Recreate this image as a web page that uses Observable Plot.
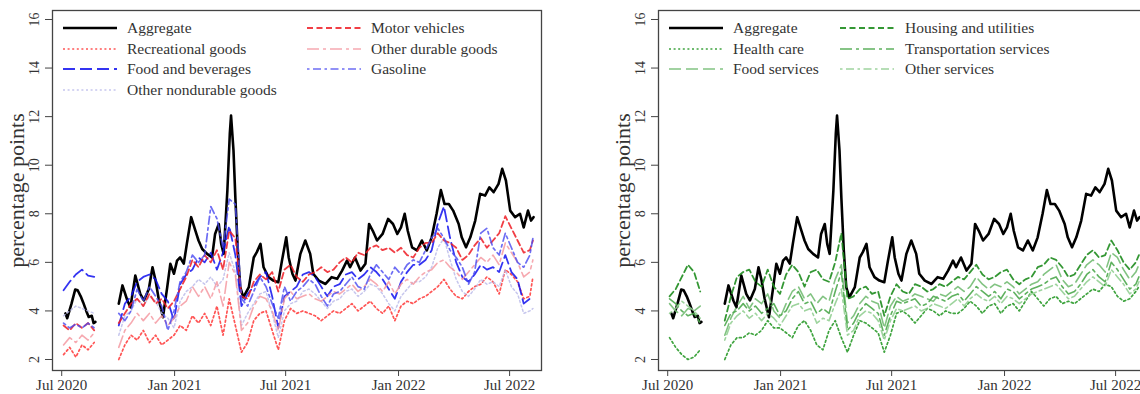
<!DOCTYPE html>
<html><head><meta charset="utf-8">
<script src="https://cdn.jsdelivr.net/npm/d3@7"></script>
<script src="https://cdn.jsdelivr.net/npm/@observablehq/plot@0.6"></script>
<style>
html,body{margin:0;padding:0;background:#fff;overflow:hidden;width:1140px;height:394px}
#wrap{position:relative;width:1140px;height:394px;overflow:hidden;background:#fff}
.panel{position:absolute;top:0;width:570px;height:394px}
.leg{position:absolute;display:flex;align-items:center;white-space:nowrap;font-family:"Liberation Serif",serif;font-size:15.5px;color:#333;height:18px}
.leg svg{display:block}
</style></head><body><div id="wrap"></div>
<script>
// ---------- data ----------
const xTickDates = ["2020-07-01","2021-01-01","2021-07-01","2022-01-01","2022-07-01"];
const yTicks = [2,4,6,8,10,12,14,16];

const aggDates1 = ["2020-07-07","2020-07-10","2020-07-17","2020-07-23","2020-07-27","2020-08-01","2020-08-05","2020-08-10","2020-08-14","2020-08-19","2020-08-22","2020-08-25"];
const aggValues1 = [3.9,3.7,4.3,4.88,4.85,4.6,4.35,4.0,3.75,3.8,3.5,3.55];
const aggDates2 = ["2020-10-02","2020-10-08","2020-10-16","2020-10-21","2020-10-29","2020-11-06","2020-11-12","2020-11-20","2020-11-26","2020-12-01",
"2020-12-06","2020-12-13","2020-12-20","2020-12-25","2020-12-31","2021-01-05","2021-01-10","2021-01-16","2021-01-21","2021-01-28",
"2021-02-04","2021-02-09","2021-02-15","2021-02-23","2021-03-03","2021-03-08","2021-03-14","2021-03-18","2021-03-22","2021-03-28",
"2021-04-01","2021-04-03","2021-04-07","2021-04-10","2021-04-14","2021-04-18","2021-04-23","2021-05-02","2021-05-10","2021-05-15",
"2021-05-21","2021-05-26","2021-06-03","2021-06-11","2021-06-19","2021-06-25","2021-07-02","2021-07-06","2021-07-12","2021-07-17",
"2021-07-25","2021-08-02","2021-08-10","2021-08-15","2021-08-24","2021-09-04","2021-09-14","2021-09-23","2021-10-01","2021-10-09",
"2021-10-14","2021-10-22","2021-10-31","2021-11-08","2021-11-14","2021-11-20","2021-11-27","2021-12-06","2021-12-15","2021-12-23",
"2021-12-30","2022-01-05","2022-01-11","2022-01-16","2022-01-23","2022-01-31","2022-02-08","2022-02-16","2022-02-24","2022-03-04",
"2022-03-11","2022-03-17","2022-03-24","2022-03-31","2022-04-09","2022-04-14","2022-04-21","2022-04-28","2022-05-06","2022-05-14",
"2022-05-22","2022-05-29","2022-06-05","2022-06-13","2022-06-19","2022-06-25","2022-07-02","2022-07-10","2022-07-18","2022-07-24",
"2022-07-31","2022-08-05","2022-08-09"];
const aggValues2 = [4.3,5.05,4.43,4.15,5.46,4.7,4.43,4.9,5.8,5.25,
4.5,3.74,4.98,5.94,5.53,6.07,6.2,5.95,6.77,7.86,
7.3,6.9,6.55,6.35,6.2,7.17,7.58,6.76,6.35,8.95,
11.3,12.04,10.6,8.68,6.49,4.98,4.56,4.98,6.2,6.42,
6.76,5.8,5.39,5.25,5.18,6.07,7.03,6.2,5.53,5.25,
6.35,6.9,6.35,5.53,5.25,5.11,5.39,5.32,5.66,6.07,
5.8,6.2,5.66,5.94,7.58,7.3,6.9,7.17,7.79,7.58,
7.17,7.44,8.0,7.3,6.62,6.49,6.9,6.49,7.03,8.0,
8.98,8.4,8.4,8.13,7.58,7.03,6.62,7.03,7.72,8.82,
8.75,9.09,8.89,9.23,9.85,9.37,8.13,7.86,8.0,7.44,
8.13,7.72,7.86];

const gridDates1 = ["2020-07-04","2020-07-14","2020-07-24","2020-08-03","2020-08-13","2020-08-23"];
const gridDates2 = ["2020-10-02","2020-10-12","2020-10-22","2020-11-01","2020-11-11","2020-11-21","2020-12-01","2020-12-11","2020-12-21","2020-12-31",
"2021-01-10","2021-01-20","2021-01-30","2021-02-09","2021-02-19","2021-03-01","2021-03-11","2021-03-21","2021-03-31","2021-04-10",
"2021-04-20","2021-04-30","2021-05-10","2021-05-20","2021-05-30","2021-06-09","2021-06-19","2021-06-29","2021-07-09","2021-07-19",
"2021-07-29","2021-08-08","2021-08-18","2021-08-28","2021-09-07","2021-09-17","2021-09-27","2021-10-07","2021-10-17","2021-10-27",
"2021-11-06","2021-11-16","2021-11-26","2021-12-06","2021-12-16","2021-12-26","2022-01-05","2022-01-15","2022-01-25","2022-02-04",
"2022-02-14","2022-02-24","2022-03-06","2022-03-16","2022-03-26","2022-04-05","2022-04-15","2022-04-25","2022-05-05","2022-05-15",
"2022-05-25","2022-06-04","2022-06-14","2022-06-24","2022-07-04","2022-07-14","2022-07-24","2022-08-03","2022-08-08"];

// goods
const recreational1 = [2.2,2.5,2.1,2.6,2.4,2.7];
const recreational2 = [2.0,2.6,3.0,2.8,3.2,2.7,3.0,2.6,2.8,3.0,
3.4,3.2,3.8,3.5,3.9,3.4,4.2,3.0,4.5,3.4,
2.3,2.7,3.6,3.9,4.0,3.2,2.4,3.6,4.1,3.9,
4.0,3.9,3.8,3.6,3.8,4.0,3.9,4.1,4.3,4.0,
4.2,4.4,4.1,3.9,4.2,3.6,4.2,4.4,4.3,4.5,
4.6,4.8,5.0,5.3,4.9,4.6,4.5,4.8,5.0,5.1,
5.4,5.2,4.7,5.7,5.5,5.2,4.5,4.6,5.4];
const foodBev1 = [4.85,5.2,5.5,5.7,5.45,5.4];
const foodBev2 = [3.4,4.3,4.6,5.2,5.4,5.5,5.3,4.7,4.4,3.6,
5.1,5.5,5.7,6.2,6.0,6.4,5.7,6.4,7.5,6.3,
4.2,4.7,5.0,5.4,5.6,4.6,3.3,4.6,4.8,5.0,
5.5,5.6,5.4,5.0,4.6,5.0,5.1,5.5,5.6,5.3,
5.5,5.8,5.6,5.3,4.9,4.5,5.2,5.6,5.9,5.9,
6.1,6.5,7.6,8.3,7.0,6.0,5.4,5.2,5.5,5.9,
5.7,5.8,5.6,6.3,5.6,5.3,4.3,4.5,4.4];
const otherNondurable1 = [3.8,4.0,4.2,4.1,4.0,3.9];
const otherNondurable2 = [3.0,3.8,4.0,4.5,4.2,4.6,4.4,3.9,3.7,3.3,
4.4,4.8,5.0,5.3,5.1,5.4,5.0,5.3,6.4,5.6,
3.4,3.9,4.3,4.7,4.8,3.9,2.9,4.0,4.3,4.4,
4.8,4.9,4.7,4.4,4.1,4.4,4.5,4.8,4.9,4.6,
4.8,5.1,5.0,4.7,4.3,4.0,4.6,4.9,5.2,5.2,
5.4,5.8,6.6,7.0,6.1,5.3,4.8,4.6,4.9,5.3,
5.1,5.2,5.0,5.7,5.0,4.7,3.9,4.0,4.1];
const motorVehicles1 = [3.4,3.2,3.5,3.3,3.5,3.2];
const motorVehicles2 = [3.5,3.9,4.3,4.5,4.2,4.7,4.3,4.5,4.1,4.4,
4.9,5.4,6.1,5.8,6.3,6.0,6.5,5.7,7.3,7.0,
4.6,4.5,5.2,5.5,5.3,5.6,4.8,5.7,5.9,5.4,
5.2,5.5,5.6,5.8,5.6,5.7,6.0,6.2,6.0,6.4,
6.3,6.6,6.7,6.5,6.6,6.4,6.6,6.3,6.2,6.6,
6.8,6.8,7.2,6.9,6.8,6.6,6.1,6.3,6.7,7.0,
6.6,6.9,7.2,7.9,7.4,6.9,6.4,6.5,6.9];
const otherDurable1 = [2.6,2.9,2.7,3.0,2.8,3.1];
const otherDurable2 = [2.5,3.2,3.5,3.9,3.6,3.9,3.5,3.8,3.4,3.7,
4.2,4.4,5.0,4.6,5.0,4.5,5.2,4.2,6.0,5.5,
3.2,3.5,4.2,4.6,4.5,4.0,3.2,4.5,4.8,4.5,
4.6,4.7,4.5,4.4,4.6,4.8,4.7,4.9,5.1,4.8,
5.0,5.3,5.1,4.8,5.2,4.7,5.1,5.3,5.1,5.4,
5.6,5.7,6.0,6.1,5.8,5.6,5.3,5.6,5.9,6.2,
6.0,6.3,5.9,6.8,6.4,6.0,5.4,5.6,6.1];
const gasoline1 = [3.5,3.3,3.45,3.3,3.5,3.3];
const gasoline2 = [3.9,3.6,4.0,4.9,4.4,5.0,4.6,4.2,3.2,4.0,
5.2,5.6,6.3,6.0,6.3,8.3,7.8,6.6,8.6,8.4,
4.5,4.2,4.8,5.4,5.0,4.3,3.7,5.0,4.4,4.8,
5.0,5.3,5.1,4.6,4.2,4.7,4.8,5.1,5.4,5.0,
4.9,5.5,5.9,5.6,5.3,5.8,5.5,5.9,6.1,6.0,
6.5,7.0,7.4,7.0,6.5,6.2,5.8,5.1,5.6,7.2,
7.4,6.6,6.3,7.2,6.6,6.0,5.8,6.3,7.0];

// services
const health1 = [2.9,2.5,2.2,2.0,2.1,2.4];
const health2 = [2.0,2.6,2.9,2.9,3.1,3.0,3.2,3.6,3.3,3.3,
3.1,2.9,3.4,3.6,3.2,2.6,2.4,3.2,3.6,2.9,
2.3,3.0,3.6,3.5,3.3,3.1,2.3,3.0,3.9,4.0,
3.8,3.5,3.8,4.1,4.0,3.8,4.0,3.9,3.9,4.1,
4.4,4.2,3.9,4.2,4.3,3.9,4.2,4.3,4.0,4.4,
4.8,4.5,4.2,4.5,4.6,4.3,4.4,4.3,4.5,4.7,
4.9,4.8,5.1,5.0,4.6,4.4,4.5,4.8,5.0];
const foodServices1 = [4.3,4.0,3.8,4.1,4.0,4.2];
const foodServices2 = [3.0,3.7,4.2,4.6,4.1,4.5,4.3,4.7,4.0,3.7,
4.3,4.8,5.0,4.5,4.7,4.3,4.6,4.4,5.3,5.9,
3.5,3.8,4.3,4.6,4.4,4.3,3.3,4.2,4.6,4.4,
4.5,4.7,4.6,4.5,4.4,4.7,4.6,4.8,5.0,4.8,
5.0,5.4,5.1,4.9,5.1,5.0,5.2,5.0,4.7,4.9,
5.1,5.2,5.5,5.7,5.9,5.3,5.0,5.1,5.5,5.9,
6.1,5.9,5.6,6.4,6.2,5.7,5.3,5.6,5.9];
const housing1 = [4.6,4.9,5.4,5.9,5.6,4.8];
const housing2 = [3.6,4.6,5.4,5.6,5.7,5.2,5.0,5.7,5.0,4.7,
5.5,5.9,5.6,5.0,5.6,5.7,5.3,5.2,6.0,7.2,
4.5,4.6,4.9,5.0,4.7,4.8,3.8,4.6,5.1,4.8,
4.7,5.1,5.0,4.8,4.9,5.1,5.0,5.2,5.4,5.3,
5.6,5.9,5.5,5.3,5.4,5.6,5.7,5.3,5.1,5.3,
5.4,5.8,5.9,6.2,6.1,5.8,5.4,5.5,5.9,6.3,
6.5,6.2,6.3,6.9,6.5,6.0,5.7,6.0,6.3];
const transport1 = [4.5,4.3,4.0,3.8,3.9,3.5];
const transport2 = [3.4,3.9,4.0,4.3,4.0,4.2,3.9,4.1,4.3,3.8,
4.0,4.5,4.8,4.3,4.4,3.9,4.1,3.9,4.8,5.6,
3.2,3.5,4.0,4.3,4.1,3.9,3.0,3.8,4.4,4.3,
4.4,4.5,4.2,4.3,4.6,4.5,4.4,4.6,4.7,4.4,
4.7,5.0,4.8,4.6,4.8,4.5,4.9,4.8,4.5,4.7,
4.9,5.0,5.1,5.3,5.4,5.0,4.7,4.8,5.1,5.5,
5.7,5.4,5.2,6.0,5.7,5.3,4.9,5.1,5.4];
const otherServices1 = [3.9,4.1,4.4,4.2,4.0,3.7];
const otherServices2 = [2.8,3.5,3.8,4.0,3.7,3.9,3.6,3.9,3.7,3.4,
3.8,4.2,4.3,4.0,4.1,3.5,3.7,3.6,4.3,4.9,
3.0,3.2,3.8,4.0,3.9,3.6,2.8,3.6,4.1,4.0,
4.1,4.2,4.0,4.1,4.3,4.2,4.1,4.3,4.5,4.2,
4.5,4.7,4.5,4.4,4.6,4.3,4.6,4.5,4.3,4.5,
4.7,4.8,4.9,5.0,5.1,4.8,4.5,4.6,4.9,5.2,
5.4,5.2,5.0,5.7,5.4,5.1,4.7,4.9,5.2];

// ---------- build ----------
const parse = d3.utcParse("%Y-%m-%d");
const problems = [];
function rows(name, d1, v1, d2, v2) {
  if (d1.length !== v1.length || d2.length !== v2.length) problems.push(name + " " + v1.length + "/" + v2.length);
  const out = [];
  d1.forEach((d, i) => out.push({series: name, seg: 1, date: parse(d), value: v1[i]}));
  d2.forEach((d, i) => out.push({series: name, seg: 2, date: parse(d), value: v2[i]}));
  return out;
}
const G1 = gridDates1, G2 = gridDates2;
const aggregate = rows("Aggregate", aggDates1, aggValues1, aggDates2, aggValues2);

const DOT = "2 2.6", DASH = "6 3.5", LONG = "12 5", TWODASH = "12 4 3 4", DOTDASH = "2.5 3.5 8 3.5";

const goodsSeries = [
  {name: "Aggregate", data: aggregate, stroke: "#000", w: 2.6, dash: null, op: 1, col: 0, row: 0},
  {name: "Recreational goods", data: rows("Recreational goods", G1, recreational1, G2, recreational2), stroke: "#ff2a2a", w: 1.7, dash: DOT, op: 0.8, col: 0, row: 1},
  {name: "Food and beverages", data: rows("Food and beverages", G1, foodBev1, G2, foodBev2), stroke: "#1010ee", w: 1.8, dash: LONG, op: 0.85, col: 0, row: 2},
  {name: "Other nondurable goods", data: rows("Other nondurable goods", G1, otherNondurable1, G2, otherNondurable2), stroke: "#b8b8e8", w: 1.5, dash: DOT, op: 0.8, col: 0, row: 3},
  {name: "Motor vehicles", data: rows("Motor vehicles", G1, motorVehicles1, G2, motorVehicles2), stroke: "#ee1c24", w: 1.8, dash: DASH, op: 0.85, col: 1, row: 0},
  {name: "Other durable goods", data: rows("Other durable goods", G1, otherDurable1, G2, otherDurable2), stroke: "#f49aa2", w: 1.6, dash: TWODASH, op: 0.85, col: 1, row: 1},
  {name: "Gasoline", data: rows("Gasoline", G1, gasoline1, G2, gasoline2), stroke: "#4848f0", w: 1.7, dash: DOTDASH, op: 0.8, col: 1, row: 2}
];
const serviceSeries = [
  {name: "Aggregate", data: aggregate, stroke: "#000", w: 2.6, dash: null, op: 1, col: 0, row: 0},
  {name: "Health care", data: rows("Health care", G1, health1, G2, health2), stroke: "#2a9a2a", w: 1.7, dash: DOT, op: 0.9, col: 0, row: 1},
  {name: "Food services", data: rows("Food services", G1, foodServices1, G2, foodServices2), stroke: "#74bd74", w: 1.6, dash: LONG, op: 0.9, col: 0, row: 2},
  {name: "Housing and utilities", data: rows("Housing and utilities", G1, housing1, G2, housing2), stroke: "#1e8c1e", w: 1.8, dash: DASH, op: 0.9, col: 1, row: 0},
  {name: "Transportation services", data: rows("Transportation services", G1, transport1, G2, transport2), stroke: "#4ea84e", w: 1.6, dash: TWODASH, op: 0.9, col: 1, row: 1},
  {name: "Other services", data: rows("Other services", G1, otherServices1, G2, otherServices2), stroke: "#94cf94", w: 1.6, dash: DOTDASH, op: 0.9, col: 1, row: 2}
];

const xTicks = xTickDates.map(parse);
const fmt = d3.utcFormat("%b %Y");

function makePlot(series) {
  const lineMarks = series.map(s => Plot.line(s.data, {
    x: "date", y: "value", z: "seg", stroke: s.stroke, strokeWidth: s.w,
    strokeDasharray: s.dash, strokeOpacity: s.op, strokeLinejoin: "round"
  }));
  return Plot.plot({
    width: 570, height: 394,
    marginLeft: 52, marginRight: 29, marginTop: 10, marginBottom: 24,
    x: {type: "utc", domain: [parse("2020-06-16"), parse("2022-08-22")]},
    y: {domain: [1.547, 16.37]},
    style: {fontFamily: "'Liberation Serif', serif", fontSize: "15px", color: "#333", background: "transparent", overflow: "visible"},
    marks: [
      Plot.axisX({ticks: xTicks, tickSize: 6, tickPadding: 3, tickFormat: fmt, label: null, fontSize: 15, stroke: "#444"}),
      Plot.axisY({ticks: yTicks, tickSize: 7, tickFormat: () => "", label: null, stroke: "#444"}),
      Plot.text(yTicks, {y: d => d, text: d => String(d), frameAnchor: "left", textAnchor: "middle", dx: -18, rotate: -90, fontSize: 14, fill: "#333"}),
      Plot.text(["percentage points"], {frameAnchor: "left", textAnchor: "middle", dx: -36, rotate: -90, fontSize: 22, fill: "#333"}),
      ...lineMarks,
      Plot.frame({stroke: "#444", strokeWidth: 1.3})
    ]
  });
}

const wrap = document.getElementById("wrap");
function addPanel(series, left, col2Line, col2Text) {
  const div = document.createElement("div");
  div.className = "panel";
  div.style.left = left + "px";
  div.appendChild(makePlot(series));
  series.forEach(s => {
    const it = document.createElement("div");
    it.className = "leg";
    const lx = s.col === 0 ? 63 : col2Line;
    const tx = s.col === 0 ? 127 : col2Text;
    it.style.left = lx + "px";
    it.style.top = (28 + s.row * 20.6 - 9) + "px";
    const svgns = "http://www.w3.org/2000/svg";
    const sw = document.createElementNS(svgns, "svg");
    sw.setAttribute("width", 54); sw.setAttribute("height", 8);
    const ln = document.createElementNS(svgns, "line");
    ln.setAttribute("x1", 0); ln.setAttribute("x2", 54); ln.setAttribute("y1", 4); ln.setAttribute("y2", 4);
    ln.setAttribute("stroke", s.stroke); ln.setAttribute("stroke-width", s.w);
    ln.setAttribute("stroke-opacity", s.op);
    if (s.dash) ln.setAttribute("stroke-dasharray", s.dash);
    sw.appendChild(ln);
    it.appendChild(sw);
    const sp = document.createElement("span");
    sp.textContent = s.name;
    sp.style.marginLeft = (tx - lx - 54) + "px";
    it.appendChild(sp);
    div.appendChild(it);
  });
  wrap.appendChild(div);
}
addPanel(goodsSeries, 0, 307, 371);
addPanel(serviceSeries, 606, 234, 299);
if (problems.length) {
  const p = document.createElement("div");
  p.style.cssText = "position:absolute;left:200px;top:150px;color:red;font:14px sans-serif";
  p.textContent = "LENGTH MISMATCH: " + problems.join(", ");
  wrap.appendChild(p);
}
</script></body></html>
